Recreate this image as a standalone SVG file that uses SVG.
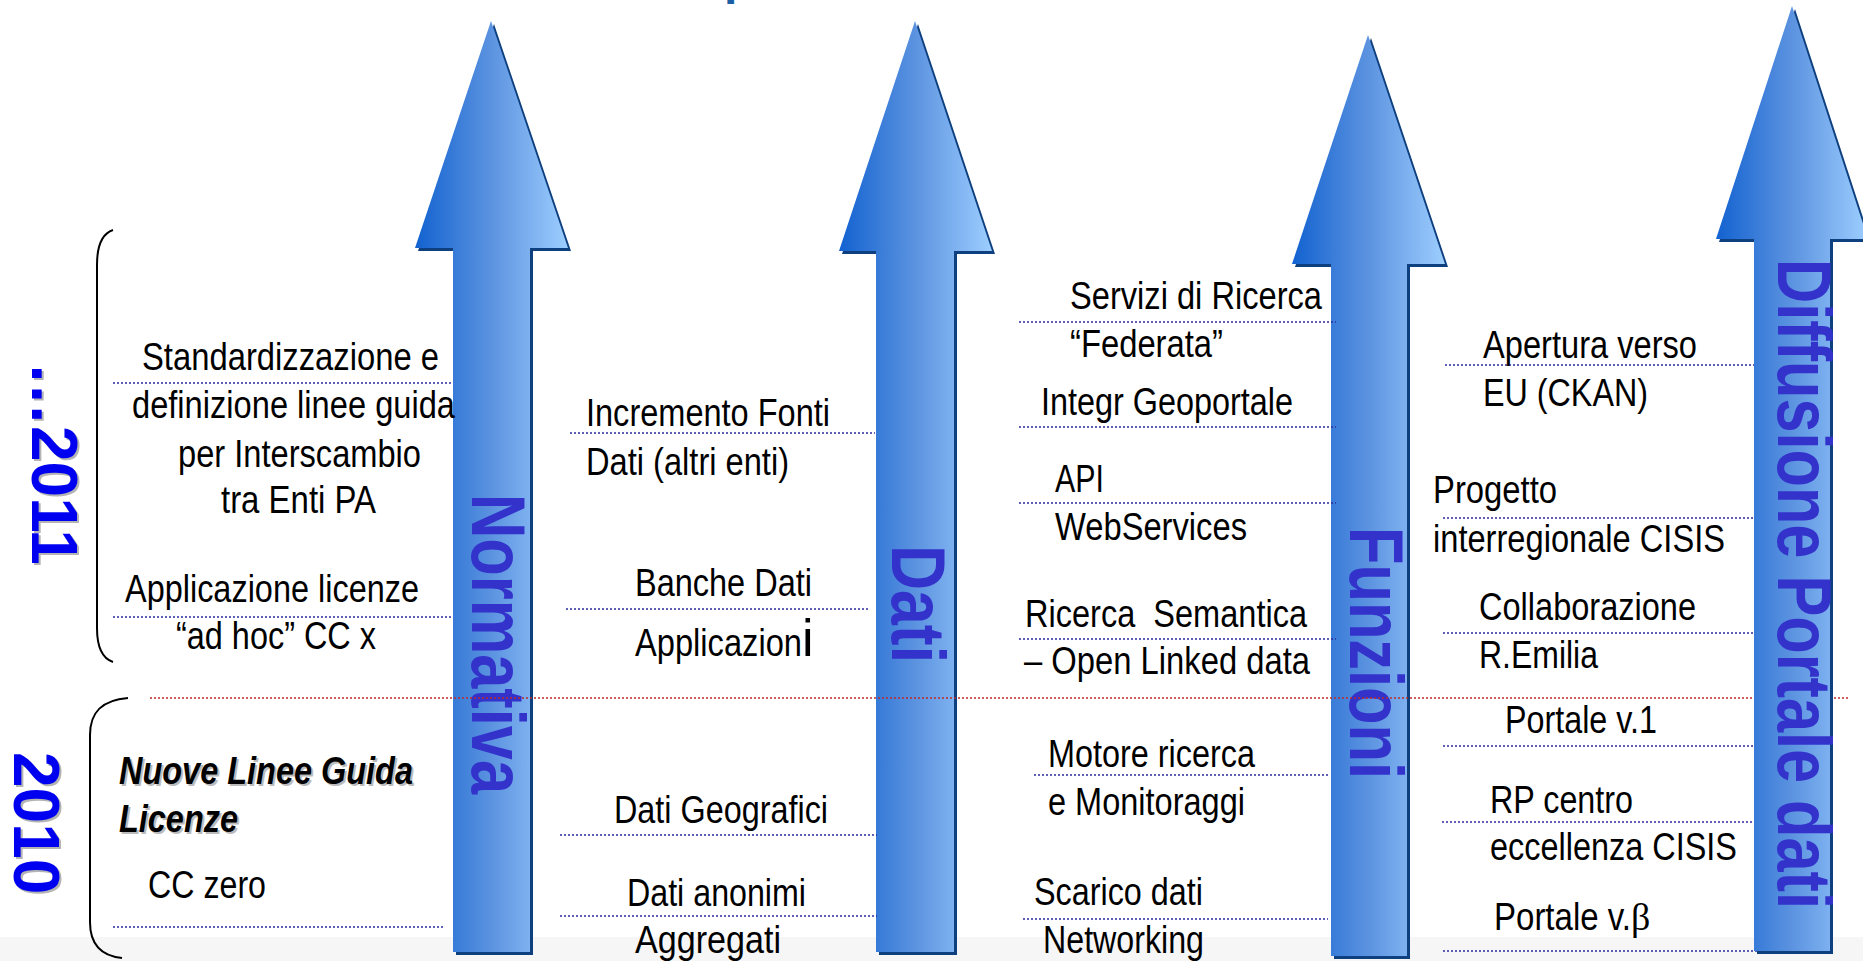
<svg xmlns="http://www.w3.org/2000/svg" xmlns:xlink="http://www.w3.org/1999/xlink" width="1863" height="961" viewBox="0 0 1863 961">
<style>
.t{font-family:'Liberation Sans',Arial,sans-serif;font-size:38px;fill:#000}
.bi{font-family:'Liberation Sans',Arial,sans-serif;font-size:38px;font-weight:bold;font-style:italic}
.lbl{font-family:'Liberation Sans',Arial,sans-serif;font-size:76px;font-weight:bold;fill:#3333CC}
.yr{font-family:'Liberation Sans',Arial,sans-serif;font-size:64px;font-weight:bold}
.dot{stroke:#2B2BA0;stroke-width:1.6;stroke-dasharray:2 2;fill:none}
.red{stroke:#C02828;stroke-width:1.6;stroke-dasharray:2 2;fill:none}
.shadow{fill:#0E3F7E}
.body{fill:url(#g)}
.br{fill:none;stroke:#000;stroke-width:2}
</style>
<defs>
<linearGradient id="g" x1="0" y1="0" x2="1" y2="0">
<stop offset="0" stop-color="#1262D0"/>
<stop offset="0.5" stop-color="#5C93E0"/>
<stop offset="1" stop-color="#9DCEFF"/>
</linearGradient>
<polygon id="a1" points="491,21 415,248 453,248 453,952 530,952 530,248 568,248"/>
<polygon id="a2" points="915,21 839,251 876,251 876,952 954,952 954,251 992,251"/>
<polygon id="a3" points="1368,35 1292,264 1331,264 1331,956 1407,956 1407,264 1445,264"/>
<polygon id="a4" points="1792,6 1716,239 1754,239 1754,951 1830,951 1830,239 1868,239"/>
</defs>
<rect x="0" y="937" width="1863" height="24" fill="#F6F6F6"/>
<text x="724" y="-6" style="font-family:'Liberation Sans',Arial,sans-serif;font-size:48px;font-weight:bold;fill:#1B5EA6">p</text>

<g id="years">
<text class="yr" fill="#B4B4B4" transform="translate(34,364) rotate(90)">…2011</text>
<text class="yr" fill="#0000F0" transform="translate(32,362) rotate(90)">…2011</text>
<text class="yr" fill="#B4B4B4" transform="translate(16,754) rotate(90)">2010</text>
<text class="yr" fill="#0000F0" transform="translate(14,752) rotate(90)">2010</text>
<path class="br" d="M113,230 C101,234 97,248 97,265 L97,628 C97,645 101,658 113,662"/>
<path class="br" d="M128,698 C102,700 90,712 90,735 L90,922 C90,945 102,956 122,958"/>
</g>

<g id="arrow-normativa">
<use xlink:href="#a1" class="shadow" transform="translate(3,3)"/>
<use xlink:href="#a1" class="body"/>
<text class="lbl" transform="translate(472,494) rotate(90)" textLength="300" lengthAdjust="spacingAndGlyphs">Normativa</text>
</g>
<g id="arrow-dati">
<use xlink:href="#a2" class="shadow" transform="translate(3,3)"/>
<use xlink:href="#a2" class="body"/>
<text class="lbl" transform="translate(892,545) rotate(90)" textLength="118" lengthAdjust="spacingAndGlyphs">Dati</text>
</g>
<g id="arrow-funzioni">
<use xlink:href="#a3" class="shadow" transform="translate(3,3)"/>
<use xlink:href="#a3" class="body"/>
<text class="lbl" transform="translate(1350,527) rotate(90)" textLength="252" lengthAdjust="spacingAndGlyphs">Funzioni</text>
</g>

<g id="connectors">
<line class="dot" x1="113" y1="383" x2="453" y2="383"/>
<line class="dot" x1="113" y1="617" x2="453" y2="617"/>
<line class="dot" x1="113" y1="927" x2="444" y2="927"/>
<line class="dot" x1="570" y1="433" x2="875" y2="433"/>
<line class="dot" x1="566" y1="609" x2="870" y2="609"/>
<line class="dot" x1="560" y1="835" x2="877" y2="835"/>
<line class="dot" x1="560" y1="916" x2="877" y2="916"/>
<line class="dot" x1="1019" y1="322" x2="1336" y2="322"/>
<line class="dot" x1="1019" y1="427" x2="1336" y2="427"/>
<line class="dot" x1="1019" y1="503" x2="1336" y2="503"/>
<line class="dot" x1="1019" y1="639" x2="1336" y2="639"/>
<line class="dot" x1="1034" y1="775" x2="1328" y2="775"/>
<line class="dot" x1="1023" y1="919" x2="1328" y2="919"/>
<line class="dot" x1="1445" y1="365" x2="1762" y2="365"/>
<line class="dot" x1="1443" y1="518" x2="1759" y2="518"/>
<line class="dot" x1="1443" y1="633" x2="1759" y2="633"/>
<line class="dot" x1="1443" y1="746" x2="1759" y2="746"/>
<line class="dot" x1="1442" y1="822" x2="1758" y2="822"/>
<line class="dot" x1="1443" y1="951" x2="1759" y2="951"/>
<line class="red" x1="150" y1="698" x2="1848" y2="698"/>
</g>

<g id="arrow-diffusione">
<use xlink:href="#a4" class="shadow" transform="translate(3,3)"/>
<use xlink:href="#a4" class="body"/>
<text class="lbl" transform="translate(1778,259) rotate(90)" textLength="650" lengthAdjust="spacingAndGlyphs">Diffusione Portale dati</text>
</g>

<g id="col-normativa">
<text class="t" x="142" y="370" textLength="297" lengthAdjust="spacingAndGlyphs">Standardizzazione e</text>
<text class="t" x="132" y="418" textLength="323" lengthAdjust="spacingAndGlyphs">definizione linee guida</text>
<text class="t" x="178" y="467" textLength="243" lengthAdjust="spacingAndGlyphs">per Interscambio</text>
<text class="t" x="221" y="513" textLength="155" lengthAdjust="spacingAndGlyphs">tra Enti PA</text>
<text class="t" x="125" y="602" textLength="294" lengthAdjust="spacingAndGlyphs">Applicazione licenze</text>
<text class="t" x="176" y="649" textLength="200" lengthAdjust="spacingAndGlyphs">“ad hoc” CC x</text>
<text class="bi" fill="#BBBBBB" x="121" y="786" textLength="294" lengthAdjust="spacingAndGlyphs">Nuove Linee Guida</text>
<text class="bi" fill="#000" x="119" y="784" textLength="294" lengthAdjust="spacingAndGlyphs">Nuove Linee Guida</text>
<text class="bi" fill="#BBBBBB" x="121" y="834" textLength="119" lengthAdjust="spacingAndGlyphs">Licenze</text>
<text class="bi" fill="#000" x="119" y="832" textLength="119" lengthAdjust="spacingAndGlyphs">Licenze</text>
<text class="t" x="148" y="898" textLength="118" lengthAdjust="spacingAndGlyphs">CC zero</text>
</g>

<g id="col-dati">
<text class="t" x="586" y="426" textLength="244" lengthAdjust="spacingAndGlyphs">Incremento Fonti</text>
<text class="t" x="586" y="475" textLength="203" lengthAdjust="spacingAndGlyphs">Dati (altri enti)</text>
<text class="t" x="635" y="596" textLength="177" lengthAdjust="spacingAndGlyphs">Banche Dati</text>
<text class="t" x="635" y="656"><tspan textLength="167" lengthAdjust="spacingAndGlyphs">Applicazion</tspan><tspan style="font-size:52px">i</tspan></text>
<text class="t" x="614" y="823" textLength="214" lengthAdjust="spacingAndGlyphs">Dati Geografici</text>
<text class="t" x="627" y="906" textLength="179" lengthAdjust="spacingAndGlyphs">Dati anonimi</text>
<text class="t" x="635" y="953" textLength="146" lengthAdjust="spacingAndGlyphs">Aggregati</text>
</g>

<g id="col-funzioni">
<text class="t" x="1070" y="309" textLength="252" lengthAdjust="spacingAndGlyphs">Servizi di Ricerca</text>
<text class="t" x="1070" y="357" textLength="153" lengthAdjust="spacingAndGlyphs">“Federata”</text>
<text class="t" x="1041" y="415" textLength="252" lengthAdjust="spacingAndGlyphs">Integr Geoportale</text>
<text class="t" x="1055" y="492" textLength="49" lengthAdjust="spacingAndGlyphs">API</text>
<text class="t" x="1055" y="540" textLength="192" lengthAdjust="spacingAndGlyphs">WebServices</text>
<text class="t" x="1025" y="627" textLength="282" lengthAdjust="spacingAndGlyphs" xml:space="preserve">Ricerca  Semantica</text>
<text class="t" x="1024" y="674" textLength="286" lengthAdjust="spacingAndGlyphs">– Open Linked data</text>
<text class="t" x="1048" y="767" textLength="207" lengthAdjust="spacingAndGlyphs">Motore ricerca</text>
<text class="t" x="1048" y="815" textLength="197" lengthAdjust="spacingAndGlyphs">e Monitoraggi</text>
<text class="t" x="1034" y="905" textLength="169" lengthAdjust="spacingAndGlyphs">Scarico dati</text>
<text class="t" x="1043" y="953" textLength="161" lengthAdjust="spacingAndGlyphs">Networking</text>
</g>

<g id="col-diffusione">
<text class="t" x="1483" y="358" textLength="214" lengthAdjust="spacingAndGlyphs">Apertura verso</text>
<text class="t" x="1483" y="406" textLength="165" lengthAdjust="spacingAndGlyphs">EU (CKAN)</text>
<text class="t" x="1433" y="503" textLength="124" lengthAdjust="spacingAndGlyphs">Progetto</text>
<text class="t" x="1433" y="552" textLength="292" lengthAdjust="spacingAndGlyphs">interregionale CISIS</text>
<text class="t" x="1479" y="620" textLength="217" lengthAdjust="spacingAndGlyphs">Collaborazione</text>
<text class="t" x="1479" y="668" textLength="119" lengthAdjust="spacingAndGlyphs">R.Emilia</text>
<text class="t" x="1505" y="733" textLength="152" lengthAdjust="spacingAndGlyphs">Portale v.1</text>
<text class="t" x="1490" y="813" textLength="143" lengthAdjust="spacingAndGlyphs">RP centro</text>
<text class="t" x="1490" y="860" textLength="247" lengthAdjust="spacingAndGlyphs">eccellenza CISIS</text>
<text class="t" x="1494" y="930"><tspan textLength="137" lengthAdjust="spacingAndGlyphs">Portale v.</tspan><tspan style="font-family:'Liberation Serif','DejaVu Serif',serif">β</tspan></text>
</g>
</svg>
